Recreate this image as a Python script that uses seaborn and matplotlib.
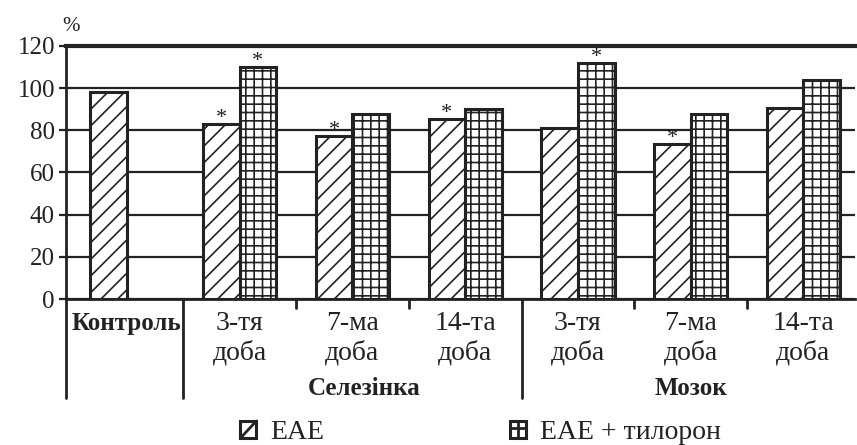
import numpy as np
import pandas as pd
import matplotlib
matplotlib.use("Agg")
import matplotlib.pyplot as plt
import matplotlib.patches as mpatches
from matplotlib.lines import Line2D
from matplotlib.legend_handler import HandlerBase
import seaborn as sns

# дані, зчитані з рисунку
categories = ["Контроль", "3-тя\nдоба", "7-ма\nдоба", "14-та\nдоба",
              "3-тя\nдоба ", "7-ма\nдоба ", "14-та\nдоба "]
eae = [98, 83, 77.5, 85.5, 81, 73.5, 90.5]
eae_tiloron = [np.nan, 110, 87.5, 90, 112, 87.5, 104]
sig_eae = [False, True, True, True, False, True, False]
sig_tiloron = [False, True, False, False, True, False, False]
groups = ["Селезінка", "Мозок"]
series = ["ЕАЕ", "ЕАЕ + тилорон"]

df = pd.DataFrame({
    "cat": categories * 2,
    "val": eae + eae_tiloron,
    "series": [series[0]] * 7 + [series[1]] * 7,
})

INK = "#222222"

sns.set_theme(style="white")
plt.rcParams["font.family"] = ["Liberation Serif", "DejaVu Serif"]
plt.rcParams["hatch.linewidth"] = 1.2
plt.rcParams["hatch.color"] = INK


class BoxHandler(HandlerBase):
    # значок легенди: квадрат з діагоналлю або з хрестом
    def __init__(self, kind):
        super().__init__()
        self.kind = kind

    def create_artists(self, legend, orig_handle, xdescent, ydescent,
                       width, height, fontsize, trans):
        x0, y0 = -xdescent, -ydescent
        arts = [mpatches.Rectangle((x0, y0), width, height, fill=False,
                                   edgecolor=INK, linewidth=2.2, transform=trans)]
        if self.kind == "diag":
            arts.append(Line2D([x0, x0 + width], [y0, y0 + height],
                               color=INK, linewidth=2, transform=trans))
        else:
            arts.append(Line2D([x0, x0 + width], [y0 + height * 0.62] * 2,
                               color=INK, linewidth=2, transform=trans))
            arts.append(Line2D([x0 + width / 2] * 2, [y0, y0 + height],
                               color=INK, linewidth=2, transform=trans))
        return arts


fig = plt.figure(figsize=(8.57, 4.45), dpi=100)
ax = fig.add_axes([0.077, 0.328, 0.921, 0.569])

sns.barplot(data=df, x="cat", y="val", hue="series", hue_order=series,
            order=categories, width=0.65, palette=["white", "white"],
            edgecolor=INK, linewidth=2.2, ax=ax, legend=False, zorder=3)

hatches = {0: "//", 1: "++"}
for p in ax.patches:
    if np.isnan(p.get_height()) or p.get_width() == 0:
        continue
    cx = p.get_x() + p.get_width() / 2
    i = int(round(cx))
    left = cx < i
    p.set_hatch(hatches[0] if left else hatches[1])
    flag = sig_eae[i] if left else sig_tiloron[i]
    if flag:
        ax.text(cx, p.get_height() + 0.3, "*", ha="center", va="baseline",
                fontsize=16, color=INK, zorder=4)

ax.set_ylim(0, 120)
ax.set_xlim(-0.54, 6.46)
ax.set_yticks(range(0, 121, 20))
ax.yaxis.grid(True, color=INK, linewidth=1.6, zorder=0)
ax.set_axisbelow(True)
ax.tick_params(axis="y", labelsize=18, length=5, width=1.6, color=INK,
               left=True, pad=3, labelcolor=INK)
ax.set_xticks([])
ax.set_xlabel("")
ax.set_ylabel("")
for s in ["left", "bottom", "top"]:
    ax.spines[s].set_color(INK)
ax.spines["left"].set_linewidth(2)
ax.spines["bottom"].set_linewidth(2)
ax.spines["top"].set_linewidth(3)
ax.spines["right"].set_visible(False)

trans = ax.get_xaxis_transform()
# підписи категорій
for i, c in enumerate(categories):
    if i == 0:
        ax.text(i, -0.095, c, transform=trans, ha="center", va="center",
                fontsize=18, fontweight="bold", color=INK)
    else:
        top, bottom = c.strip().split("\n")
        ax.text(i, -0.095, top, transform=trans, ha="center", va="center",
                fontsize=20, color=INK)
        ax.text(i, -0.213, bottom, transform=trans, ha="center", va="center",
                fontsize=20, color=INK)
for g, pos in zip(groups, [2.1, 5]):
    ax.text(pos, -0.352, g, transform=trans, ha="center", va="center",
            fontsize=18, fontweight="bold", color=INK)

# розділювальні лінії таблиці
for xb in [-0.54, 0.5, 3.5]:
    ax.plot([xb, xb], [0, -0.39], transform=trans, color=INK,
            linewidth=2, clip_on=False)
for xb in [1.5, 2.5, 4.5, 5.5]:
    ax.plot([xb, xb], [0, -0.035], transform=trans, color=INK,
            linewidth=2, clip_on=False)

fig.text(0.073, 0.94, "%", fontsize=15, color=INK, ha="left", va="center")

h1 = mpatches.Patch(label=series[0])
h2 = mpatches.Patch(label=series[1])
fig.legend([h1, h2], series, loc="center", bbox_to_anchor=(0.561, 0.027), ncol=2,
           frameon=False, fontsize=20, handlelength=0.58, handleheight=0.58,
           handletextpad=0.5, columnspacing=6.7, labelcolor=INK,
           borderpad=0, borderaxespad=0,
           handler_map={h1: BoxHandler("diag"), h2: BoxHandler("cross")})

fig.savefig("out.png", dpi=100)
